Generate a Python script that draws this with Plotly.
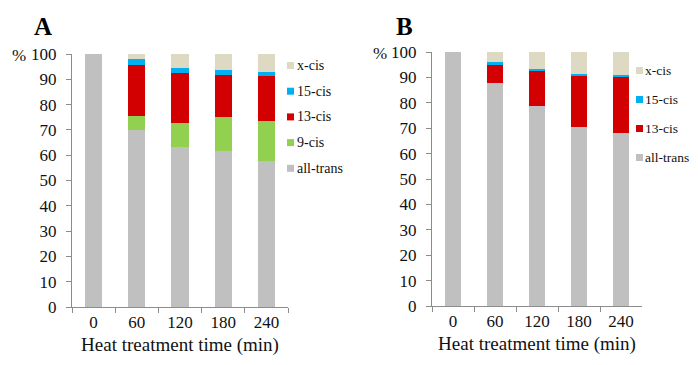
import plotly.graph_objects as go

times = ["0", "60", "120", "180", "240"]

# Panel A
a_all_trans = [100, 70.0, 63.4, 61.7, 57.7]
a_9cis = [0, 5.5, 9.2, 13.3, 15.8]
a_13cis = [0, 20.3, 19.9, 16.7, 17.8]
a_15cis = [0, 2.2, 2.0, 1.9, 1.7]
a_xcis = [0, 2.0, 5.5, 6.4, 7.0]

# Panel B
b_all_trans = [100, 87.8, 78.6, 70.4, 68.1]
b_13cis = [0, 6.9, 14.0, 20.0, 21.9]
b_15cis = [0, 1.3, 0.8, 1.0, 0.9]
b_xcis = [0, 4.0, 6.6, 8.6, 9.1]

y_ticks = [0, 10, 20, 30, 40, 50, 60, 70, 80, 90, 100]

COL = {"all-trans": "#C0C0C0", "9-cis": "#92D050", "13-cis": "#D20000",
       "15-cis": "#00B0F0", "x-cis": "#DDD9C3"}
FONT = "Liberation Serif"

fig = go.Figure()

seriesA = [("all-trans", a_all_trans), ("9-cis", a_9cis), ("13-cis", a_13cis),
           ("15-cis", a_15cis), ("x-cis", a_xcis)]
seriesB = [("all-trans", b_all_trans), ("13-cis", b_13cis),
           ("15-cis", b_15cis), ("x-cis", b_xcis)]

for name, vals in seriesA:
    fig.add_trace(go.Bar(x=times, y=vals, name=name, marker_color=COL[name],
                         marker_line_width=0, xaxis="x", yaxis="y", showlegend=False))
for name, vals in seriesB:
    fig.add_trace(go.Bar(x=times, y=vals, name=name, marker_color=COL[name],
                         marker_line_width=0, xaxis="x2", yaxis="y2", showlegend=False))

W, H = 698, 365
OFF = 8  # page body margin offset
def dx(p): return (p - OFF) / W
def dy(p): return (H - (p - OFF)) / H

xaxis_common = dict(type="category", tickson="boundaries", ticks="outside", ticklen=5,
                    tickcolor="#8c8c8c", showline=True, linecolor="#8c8c8c", linewidth=1,
                    showgrid=False, zeroline=False, automargin=False,
                    tickfont=dict(family=FONT, size=17, color="#111"),
                    title=dict(text="Heat treatment time (min)",
                               font=dict(family=FONT, size=19, color="#111"), standoff=6),
                    fixedrange=True)
yaxis_common = dict(range=[0, 100], tickvals=y_ticks, ticks="outside", ticklen=5,
                    tickcolor="#8c8c8c", showline=True, linecolor="#8c8c8c", linewidth=1,
                    showgrid=False, zeroline=False, automargin=False,
                    tickfont=dict(family=FONT, size=17, color="#111"),
                    ticklabelstandoff=6, fixedrange=True)

annotations = [
    dict(text="<b>A</b>", x=dx(43), y=dy(26), font=dict(family=FONT, size=25, color="#000")),
    dict(text="<b>B</b>", x=dx(404), y=dy(26), font=dict(family=FONT, size=25, color="#000")),
    dict(text="%", x=dx(19), y=dy(55), font=dict(family=FONT, size=17, color="#111")),
    dict(text="%", x=dx(380), y=dy(53), font=dict(family=FONT, size=17, color="#111")),
]
for a in annotations:
    a.update(xref="paper", yref="paper", xanchor="center", yanchor="middle", showarrow=False)

shapes = []
# legend entries (top to bottom = reverse of stacking order)
def add_legend(series, sw_x, text_x, y_top, step, size):
    for k, (name, _) in enumerate(reversed(series)):
        cy = y_top + k * step
        shapes.append(dict(type="rect", xref="paper", yref="paper",
                           x0=dx(sw_x), x1=dx(sw_x + 7), y0=dy(cy + 3.5), y1=dy(cy - 3.5),
                           fillcolor=COL[name], line=dict(width=0)))
        annotations.append(dict(text=name, x=dx(text_x), y=dy(cy), xref="paper", yref="paper",
                                xanchor="left", yanchor="middle", showarrow=False,
                                font=dict(family=FONT, size=size, color="#111")))

add_legend(seriesA, 287, 295, 65.5, 25.7, 14)
add_legend(seriesB, 636, 643, 70.5, 29.0, 13.5)

fig.update_layout(
    width=W, height=H, margin=dict(l=0, r=0, t=0, b=0),
    paper_bgcolor="white", plot_bgcolor="white",
    barmode="stack", bargap=0.6, showlegend=False,
    xaxis=dict(domain=[dx(72), dx(288)], anchor="y", **xaxis_common),
    yaxis=dict(domain=[dy(307), dy(54)], anchor="x", **yaxis_common),
    xaxis2=dict(domain=[dx(432), dx(642)], anchor="y2", **xaxis_common),
    yaxis2=dict(domain=[dy(306), dy(52)], anchor="x2", **yaxis_common),
    annotations=annotations,
    shapes=shapes,
)

fig.write_html("out.html")
